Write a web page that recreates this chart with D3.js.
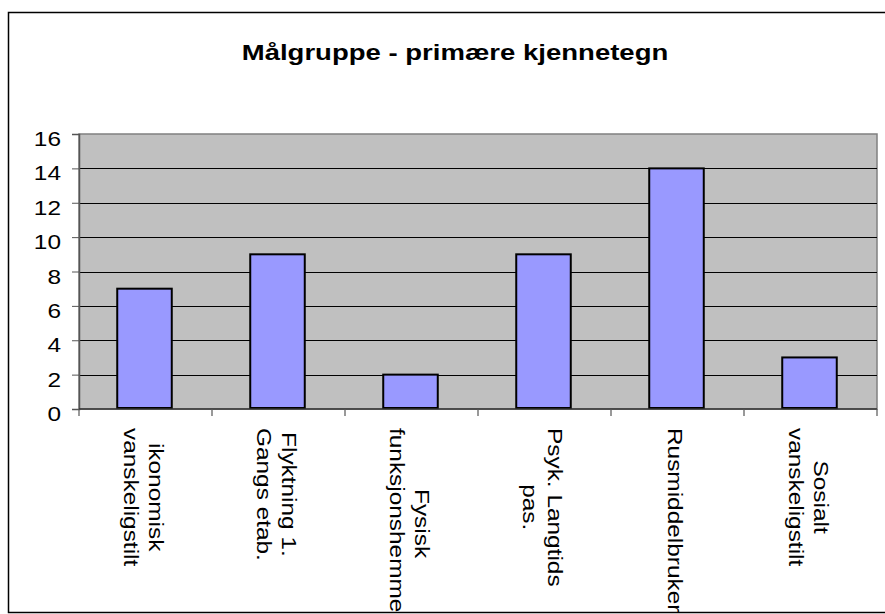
<!DOCTYPE html>
<html>
<head>
<meta charset="utf-8">
<script src="https://cdn.jsdelivr.net/npm/d3@7"></script>
<style>
  body { margin: 0; background: #fff; }
  svg { display: block; font-family: "Liberation Sans", Arial, sans-serif; }
</style>
</head>
<body>
<svg id="chart" width="885" height="614"></svg>
<script>
const title = "Målgruppe - primære kjennetegn";
const categories = [
    ["ikonomisk", "vanskeligstilt"],
    ["Flyktning 1.", "Gangs etab."],
    ["Fysisk", "funksjonshemmet"],
    ["Psyk. Langtids", "pas."],
    ["Rusmiddelbruker"],
    ["Sosialt", "vanskeligstilt"]
];
const values = [7, 9, 2, 9, 14, 3];
const yTicks = [0, 2, 4, 6, 8, 10, 12, 14, 16];

const svg = d3.select("#chart");
const plot = { left: 79, right: 877, top: 134, bottom: 409 };
const fontSize = 20;
const stretch = 1.22; // text in the reference is drawn wide

// chart frame, its right edge runs off the picture
svg.append("defs").append("clipPath").attr("id", "frame")
    .append("rect").attr("x", 8.5).attr("y", 12.5).attr("width", 890).attr("height", 600);

svg.append("rect")
    .attr("x", 8.5).attr("y", 12.5).attr("width", 890).attr("height", 600)
    .attr("fill", "#fff").attr("stroke", "#000").attr("stroke-width", 1.5);

const g = svg.append("g").attr("clip-path", "url(#frame)");

const x = d3.scaleBand().domain(d3.range(categories.length)).range([plot.left, plot.right]).padding(0);
const y = d3.scaleLinear().domain([0, 16]).range([plot.bottom, plot.top]);

// title
g.append("text")
    .attr("transform", `translate(455,60) scale(1.28,1)`)
    .attr("text-anchor", "middle")
    .attr("font-size", 21.5).attr("font-weight", "bold")
    .text(title);

// plot area
g.append("rect")
    .attr("x", plot.left).attr("y", plot.top)
    .attr("width", plot.right - plot.left).attr("height", plot.bottom - plot.top)
    .attr("fill", "#c0c0c0").attr("stroke", "#808080").attr("stroke-width", 1.5);

// gridlines
g.selectAll(".grid").data(yTicks.filter(d => d > 0 && d < 16)).enter().append("line")
    .attr("x1", plot.left).attr("x2", plot.right)
    .attr("y1", d => Math.round(y(d)) + 0.5).attr("y2", d => Math.round(y(d)) + 0.5)
    .attr("stroke", "#000").attr("stroke-width", 1);

// bars
const barW = x.bandwidth() * 0.41;
g.selectAll(".bar").data(values).enter().append("rect")
    .attr("x", (d, i) => x(i) + x.bandwidth() / 2 - barW / 2 - 1)
    .attr("y", d => y(d))
    .attr("width", barW)
    .attr("height", d => y(0) - y(d) - 1)
    .attr("fill", "#9999ff").attr("stroke", "#000").attr("stroke-width", 2);

// y axis
const yAxis = g.append("g")
    .attr("transform", `translate(${plot.left},0)`)
    .call(d3.axisLeft(y).tickValues(yTicks).tickSize(7));
yAxis.select(".domain").attr("stroke", "#555").attr("stroke-width", 1.5);
yAxis.selectAll(".tick line").attr("stroke", "#555");
yAxis.selectAll(".tick text")
    .attr("font-size", fontSize).attr("font-family", "Liberation Sans, Arial, sans-serif")
    .attr("fill", "#000")
    .attr("dy", null).attr("x", null)
    .attr("transform", `translate(-18,11.5) scale(${stretch},1)`);

// x axis line and category separator ticks
g.append("line")
    .attr("x1", plot.left).attr("x2", plot.right)
    .attr("y1", plot.bottom).attr("y2", plot.bottom)
    .attr("stroke", "#333").attr("stroke-width", 1.5);
g.selectAll(".xtick").data(d3.range(categories.length + 1)).enter().append("line")
    .attr("x1", d => plot.left + d * x.step()).attr("x2", d => plot.left + d * x.step())
    .attr("y1", plot.bottom).attr("y2", plot.bottom + 7)
    .attr("stroke", "#555").attr("stroke-width", 1.2);

// rotated category labels
const lineGap = 26;
categories.forEach((lines, i) => {
    const cx = x(i) + x.bandwidth() / 2;
    const lab = g.append("text")
        .attr("transform", `translate(${cx},428) rotate(90) scale(${stretch},1)`)
        .attr("font-size", fontSize).attr("text-anchor", "middle");
    const n = lines.length;
    const spans = lines.map((t, k) => lab.append("tspan")
        .attr("y", -(n - 1) * lineGap / 2 + k * lineGap + 9)
        .text(t));
    const maxLen = d3.max(spans, s => s.node().getComputedTextLength());
    spans.forEach(s => s.attr("x", maxLen / 2));
});
</script>
</body>
</html>
